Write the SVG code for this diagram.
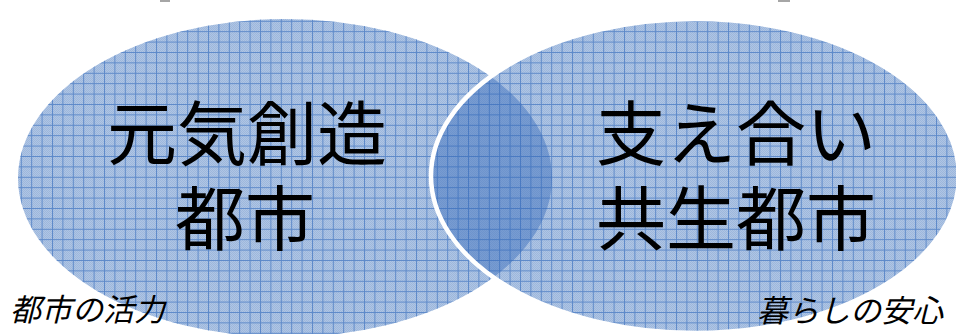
<svg xmlns="http://www.w3.org/2000/svg" width="956" height="334" viewBox="0 0 956 334">
  <style>
    .big { font-family: "Noto Sans CJK JP", "Noto Sans CJK SC", sans-serif; font-size: 70px; fill: #000; text-anchor: middle; }
    .small { font-family: "Noto Sans CJK JP", "Noto Sans CJK SC", sans-serif; font-size: 31px; fill: #000; font-style: italic; }
    .chk { fill: url(#chk); }
    .grid { fill: url(#grid); }
  </style>
  <defs>
    <pattern id="chk" width="2" height="2" patternUnits="userSpaceOnUse">
      <rect width="2" height="2" fill="#afc5e4"/>
      <rect width="1" height="1" fill="#9db7dc"/>
      <rect x="1" y="1" width="1" height="1" fill="#9db7dc"/>
    </pattern>
    <pattern id="grid" width="10.4" height="10.4" patternUnits="userSpaceOnUse">
      <path d="M0 0.5H10.4M0.5 0V10.4" stroke="#5d89c9" stroke-width="1" fill="none"/>
    </pattern>
    <clipPath id="rightClip">
      <ellipse cx="695" cy="176" rx="264" ry="157"/>
    </clipPath>
  </defs>

  <rect width="956" height="334" fill="#ffffff"/>
  <rect x="160" y="0" width="10" height="2" fill="#a6a6a6"/>
  <rect x="778" y="0" width="12" height="2" fill="#a6a6a6"/>

  <g id="node-vitality">
    <ellipse class="chk" cx="285" cy="178" rx="267" ry="159"/>
    <ellipse class="grid" cx="285" cy="178" rx="267" ry="159"/>
  </g>

  <g id="node-support">
    <ellipse class="chk" cx="695" cy="176" rx="264" ry="157"/>
    <ellipse class="grid" cx="695" cy="176" rx="264" ry="157"/>
  </g>

  <g id="overlap">
    <ellipse cx="285" cy="178" rx="267" ry="159" fill="#2e65b7" fill-opacity="0.42" clip-path="url(#rightClip)"/>
    <ellipse cx="695" cy="176" rx="264" ry="157" fill="none" stroke="#ffffff" stroke-width="4.5"/>
  </g>

  <g id="labels-vitality">
    <text class="big" x="247" y="160">元気創造</text>
    <text class="big" x="245" y="245">都市</text>
    <text class="small" x="10" y="321">都市の活力</text>
  </g>

  <g id="labels-support">
    <text class="big" x="736" y="160">支え合い</text>
    <text class="big" x="736" y="245">共生都市</text>
    <text class="small" x="757" y="322">暮らしの安心</text>
  </g>

  <g id="connectors"></g>
</svg>
